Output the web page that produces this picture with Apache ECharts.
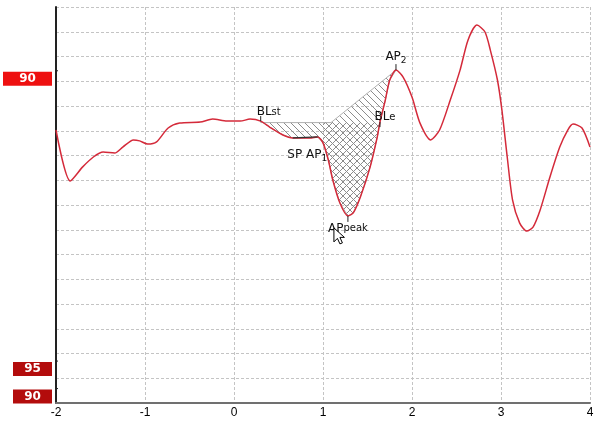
<!DOCTYPE html>
<html><head><meta charset="utf-8">
<script src="https://cdn.jsdelivr.net/npm/echarts@6/dist/echarts.min.js"></script>
<style>html,body{margin:0;padding:0;background:#fff}#c{width:600px;height:423px}</style>
</head><body><div id="c"></div>
<script>
// ---- data ----
const xTicks = [-2, -1, 0, 1, 2, 3, 4];
const curveX = [-2.00,-1.84,-1.70,-1.58,-1.47,-1.34,-1.25,-1.13,-1.06,-0.97,-0.87,-0.74,-0.61,-0.38,-0.24,-0.08,0.07,0.18,0.30,0.40,0.55,0.66,0.85,0.94,1.00,1.06,1.11,1.19,1.28,1.34,1.42,1.53,1.61,1.64,1.70,1.75,1.82,1.90,2.00,2.09,2.21,2.31,2.43,2.54,2.63,2.73,2.82,2.88,2.96,3.01,3.07,3.13,3.21,3.29,3.36,3.44,3.55,3.66,3.75,3.81,3.91,4.00];
const curveY = [11.03,8.97,9.54,9.94,10.14,10.10,10.34,10.63,10.59,10.46,10.55,11.11,11.31,11.35,11.47,11.39,11.39,11.47,11.39,11.15,10.83,10.71,10.71,10.75,10.51,9.82,9.01,8.08,7.56,7.68,8.32,9.54,10.75,11.35,12.24,13.05,13.45,13.17,12.36,11.31,10.63,11.03,12.24,13.45,14.67,15.27,14.99,14.26,13.05,11.84,9.94,8.20,7.27,6.95,7.11,7.80,9.13,10.34,11.03,11.27,11.11,10.34];
const baselineY = 11.33;
// hatched area A: baseline from BLst to cut point, then straight to AP2, back along curve
const areaAStart = 0.30, areaACut = 1.09, areaAEnd = 1.82;
// cross-hatched area B: AP1 to BLe, between baseline and curve
const areaBStart = 1.00, areaBEnd = 1.64;
// annotation markers
const markNames = ['BLst', 'SP AP1', 'AP2', 'APpeak', 'BLe'];
const markX = [0.30, 0.80, 1.82, 1.28, 1.64];
const markY = [11.39, 10.71, 13.45, 7.56, 11.35];
const spSegX = [0.66, 0.94];
// channel level labels on the left
const levelLabels = ['90', '95', '90'];
const levelValues = [13.1, 1.37, 0.26];

// ---- helpers ----
function hatch(dir) {
  const s = 7, c = document.createElement('canvas');
  c.width = c.height = s;
  const g = c.getContext('2d');
  g.strokeStyle = '#8c8c8c'; g.lineWidth = 1;
  g.beginPath();
  for (const o of [-s, 0, s]) {
    if (dir > 0) { g.moveTo(o, 0); g.lineTo(o + s, s); }
    else { g.moveTo(o + s, 0); g.lineTo(o, s); }
  }
  g.stroke();
  return c;
}
const patBack = hatch(1), patFwd = hatch(-1);
function idx(x) { let b = 0; for (let i = 0; i < curveX.length; i++) if (Math.abs(curveX[i] - x) < Math.abs(curveX[b] - x)) b = i; return b; }

const chart = echarts.init(document.getElementById('c'), null, {renderer: 'canvas'});
const curveData = curveX.map((x, i) => [x, curveY[i]]);

function renderAreas(params, api) {
  const ia0 = idx(areaAStart), ia1 = idx(areaAEnd);
  const ptsA = [api.coord([areaAStart, baselineY]), api.coord([areaACut, baselineY]), api.coord([curveX[ia1], curveY[ia1]])];
  for (let i = ia1 - 1; i >= ia0; i--) ptsA.push(api.coord([curveX[i], curveY[i]]));
  const ib0 = idx(areaBStart), ib1 = idx(areaBEnd);
  const ptsB = [api.coord([areaBStart, baselineY]), api.coord([areaBEnd, baselineY])];
  for (let i = ib1; i >= ib0; i--) ptsB.push(api.coord([curveX[i], curveY[i]]));
  return {type: 'group', children: [
    {type: 'polygon', shape: {points: ptsA}, style: {fill: {image: patBack, repeat: 'repeat'}, stroke: '#b0b0b0', lineWidth: 1}},
    {type: 'polygon', shape: {points: ptsB}, style: {fill: {image: patFwd, repeat: 'repeat'}, stroke: null}}
  ]};
}

const txtStyle = {
  b: {fontSize: 12, fontFamily: 'DejaVu Sans', fill: '#111'},
  s: {fontSize: 10, fontFamily: 'DejaVu Sans', fill: '#111'},
  sub: {fontSize: 9, fontFamily: 'DejaVu Sans', fill: '#111', padding: [7, 0, 0, 0]}
};
const markTexts = ['{b|BL}{s|st}', '{b|SP AP}{sub|1}', '{b|AP}{sub|2}', '{b|AP}{s|peak}', '{b|BL}{s|e}'];
// [tick dy1, tick dy2, text dx, text dy, verticalAlign]
const markLayout = [[-5, 0, 8, -3, 'bottom'], [0, 0, 2, 9, 'top'], [-6, 0, 0, -5, 'bottom'], [0, 6, 0, 7, 'top'], [0, 5, 5, 1, 'bottom']];

function renderMarks(params, api) {
  const i = params.dataIndex;
  const p = api.coord([api.value(0), api.value(1)]);
  const L = markLayout[i];
  const children = [];
  if (L[0] !== L[1]) children.push({type: 'line', shape: {x1: p[0], y1: p[1] + L[0], x2: p[0], y2: p[1] + L[1]}, style: {stroke: '#222', lineWidth: 1}});
  children.push({type: 'text', x: p[0] + L[2], y: p[1] + L[3], style: {text: markTexts[i], rich: txtStyle, align: 'center', verticalAlign: L[4]}});
  if (markNames[i] === 'SP AP1') {
    const a = api.coord([spSegX[0], curveY[idx(spSegX[0])]]), b = api.coord([spSegX[1], curveY[idx(spSegX[1])]]);
    children.push({type: 'line', shape: {x1: a[0], y1: a[1], x2: b[0], y2: b[1]}, style: {stroke: '#333', lineWidth: 1.2}});
  }
  if (markNames[i] === 'APpeak') {
    const ox = p[0] - 14, oy = p[1] + 12;
    children.push({type: 'polygon', z2: 10, shape: {points: [[ox, oy], [ox, oy + 14], [ox + 3.5, oy + 10.5], [ox + 6, oy + 16], [ox + 8.5, oy + 15], [ox + 6, oy + 9.5], [ox + 10.5, oy + 9.5]]}, style: {fill: '#fff', stroke: '#000', lineWidth: 1}});
  }
  return {type: 'group', children};
}

chart.setOption({
  animation: false,
  grid: {left: 56, right: 10, top: 7, bottom: 20},
  xAxis: {
    type: 'value', min: xTicks[0], max: xTicks[xTicks.length - 1], interval: 1,
    axisLine: {onZero: false, lineStyle: {color: '#707070', width: 2}},
    axisTick: {show: false},
    axisLabel: {color: '#000', fontSize: 12, fontFamily: 'Liberation Sans', margin: 4},
    splitLine: {show: true, lineStyle: {color: '#c4c4c4', type: [3, 2], width: 1}}
  },
  yAxis: {
    type: 'value', min: 0, max: 16, interval: 1,
    axisLine: {show: true, onZero: false, lineStyle: {color: '#222', width: 2}},
    axisTick: {show: false},
    axisLabel: {show: false},
    splitLine: {show: true, lineStyle: {color: '#c4c4c4', type: [3, 2], width: 1}}
  },
  series: [
    {type: 'custom', data: [[0, 0]], renderItem: renderAreas, z: 1, silent: true},
    {type: 'line', data: curveData, smooth: 0.25, showSymbol: false, lineStyle: {color: '#d42a3a', width: 1.5}, z: 3},
    {type: 'custom', data: markX.map((x, i) => [x, markY[i]]), renderItem: renderMarks, z: 4, clip: false}
  ]
});

// left level labels
const gx = chart.convertToPixel({xAxisIndex: 0}, xTicks[0]);
const graphics = levelLabels.map((t, i) => {
  const y = chart.convertToPixel({yAxisIndex: 0}, levelValues[i]);
  const top = i === 0;
  const w = top ? 49 : 39;
  return {type: 'group', children: [
    {type: 'rect', shape: {x: gx - 4 - w, y: y - 7, width: w, height: 14}, style: {fill: top ? '#ee1010' : '#b30c0c'}},
    {type: 'text', x: gx - 4 - w / 2, y: y, style: {text: t, fill: '#fff', font: 'bold 12px "DejaVu Sans"', align: 'center', verticalAlign: 'middle'}},
    {type: 'line', shape: {x1: gx, y1: y - 8, x2: gx + 2, y2: y - 8}, style: {stroke: '#222', lineWidth: 1}}
  ]};
});
chart.setOption({graphic: graphics});
</script>
</body></html>
